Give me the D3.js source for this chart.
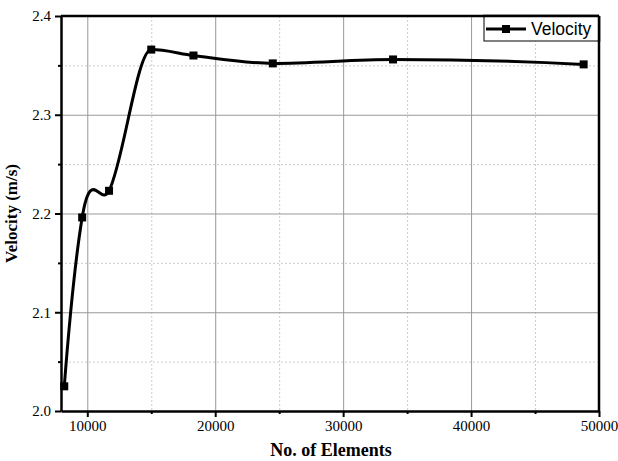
<!DOCTYPE html>
<html>
<head>
<meta charset="utf-8">
<script src="https://cdn.jsdelivr.net/npm/d3@7"></script>
<style>
  body { margin: 0; background: #fff; }
  .grid line { stroke: #999; stroke-width: 1; }
  .grid .domain { display: none; }
  .minor line { stroke: #ccc; stroke-dasharray: 2,2; stroke-width: 1; }
  .minor .domain { display: none; }
  .axis text { font-family: "Liberation Serif", "Times New Roman", serif; font-size: 15px; fill: #000; }
</style>
</head>
<body>
<div id="chart"></div>
<script>
// data
let elements = [8200, 9600, 11700, 15000, 18300, 24500, 33900, 48800];
let velocity = [2.025, 2.196, 2.223, 2.366, 2.360, 2.352, 2.356, 2.351];
let xTicks = [10000, 20000, 30000, 40000, 50000];
let xMinor = [15000, 25000, 35000, 45000];
let yTicks = [2.0, 2.1, 2.2, 2.3, 2.4];
let yMinor = [2.05, 2.15, 2.25, 2.35];

let dataset = elements.map((e, i) => ({x: e, y: velocity[i]}));

// spline curve for d3.line: 3-point tangents, flat at local extremes
function curveSpline(context) {
    let xs = [], ys = [];
    return {
        areaStart() {}, areaEnd() {},
        lineStart() { xs = []; ys = []; },
        point(px, py) { xs.push(+px); ys.push(+py); },
        lineEnd() {
            let n = xs.length;
            if (n < 2) return;
            context.moveTo(xs[0], ys[0]);
            let h = [], s = [];
            for (let i = 0; i < n - 1; i++) {
                h.push(xs[i + 1] - xs[i]);
                s.push((ys[i + 1] - ys[i]) / h[i]);
            }
            let t = new Array(n).fill(0);
            for (let i = 1; i < n - 1; i++) {
                if (s[i - 1] * s[i] <= 0) t[i] = 0;   // peak or dip
                else t[i] = (h[i] * s[i - 1] + h[i - 1] * s[i]) / (h[i - 1] + h[i]);
            }
            t[0] = n > 2 ? 2 * s[0] - t[1] : s[0];
            t[n - 1] = n > 2 ? 2 * s[n - 2] - t[n - 2] : s[n - 2];
            for (let i = 0; i < n - 1; i++) {
                let d = h[i] / 3;
                context.bezierCurveTo(xs[i] + d, ys[i] + t[i] * d,
                    xs[i + 1] - d, ys[i + 1] - t[i + 1] * d,
                    xs[i + 1], ys[i + 1]);
            }
        }
    };
}

let margin = {top: 16, right: 19, bottom: 50, left: 61},
    width = 618 - margin.left - margin.right,
    height = 461 - margin.top - margin.bottom;

let svg = d3.select("#chart")
    .append("svg")
    .attr("width", 618)
    .attr("height", 461)
    .append("g")
    .attr("transform", "translate(" + margin.left + "," + margin.top + ")");

let x = d3.scaleLinear().domain([7945, 50000]).range([0, width]);
let y = d3.scaleLinear().domain([2.0, 2.4]).range([height, 0]);

// minor gridlines (dotted)
svg.append("g").attr("class", "minor")
    .call(d3.axisBottom(x).tickValues(xMinor).tickSize(height).tickFormat(""));
svg.append("g").attr("class", "minor")
    .attr("transform", "translate(" + width + ",0)")
    .call(d3.axisLeft(y).tickValues(yMinor).tickSize(width).tickFormat(""));

// major gridlines
svg.append("g").attr("class", "grid")
    .call(d3.axisBottom(x).tickValues(xTicks).tickSize(height).tickFormat(""));
svg.append("g").attr("class", "grid")
    .attr("transform", "translate(" + width + ",0)")
    .call(d3.axisLeft(y).tickValues(yTicks).tickSize(width).tickFormat(""));

// frame top/right
svg.append("line").attr("x1", 0).attr("x2", width).attr("y1", 0).attr("y2", 0)
    .attr("stroke", "black").attr("stroke-width", 2.5);
svg.append("line").attr("x1", width).attr("x2", width).attr("y1", 0).attr("y2", height)
    .attr("stroke", "black").attr("stroke-width", 2.5);

// axes
let xAxis = svg.append("g").attr("class", "axis")
    .attr("transform", "translate(0," + height + ")")
    .call(d3.axisBottom(x).tickValues(xTicks).tickSize(6).tickSizeOuter(0).tickPadding(3).tickFormat(d3.format("d")));
let xAxisMinor = svg.append("g")
    .attr("transform", "translate(0," + height + ")")
    .call(d3.axisBottom(x).tickValues(xMinor).tickSize(3).tickFormat(""));
xAxisMinor.select(".domain").remove();

let yAxis = svg.append("g").attr("class", "axis")
    .call(d3.axisLeft(y).tickValues(yTicks).tickSize(6).tickSizeOuter(0).tickPadding(4).tickFormat(d3.format(".1f")));
let yAxisMinor = svg.append("g")
    .call(d3.axisLeft(y).tickValues(yMinor).tickSize(3).tickFormat(""));
yAxisMinor.select(".domain").remove();

[xAxis, yAxis].forEach(a => a.attr("font-family", "Liberation Serif").attr("font-size", 15));
svg.selectAll(".domain").attr("stroke-width", 2.5);
[xAxis, yAxis, xAxisMinor, yAxisMinor].forEach(a => a.selectAll(".tick line").attr("stroke-width", 2));

// axis titles
svg.append("text")
    .attr("x", 270)
    .attr("y", height + 45)
    .attr("text-anchor", "middle")
    .style("font-family", "'Liberation Serif', serif")
    .style("font-weight", "bold")
    .style("font-size", "18px")
    .text("No. of Elements");

svg.append("text")
    .attr("transform", "rotate(-90)")
    .attr("x", -height / 2)
    .attr("y", -44)
    .attr("text-anchor", "middle")
    .style("font-family", "'Liberation Serif', serif")
    .style("font-weight", "bold")
    .style("font-size", "17px")
    .text("Velocity (m/s)");

// curve
let line = d3.line()
    .x(d => x(d.x))
    .y(d => y(d.y))
    .curve(curveSpline);

svg.append("path")
    .datum(dataset)
    .attr("d", line)
    .attr("fill", "none")
    .attr("stroke", "black")
    .attr("stroke-width", 3);

// markers
svg.selectAll("rect.pt")
    .data(dataset)
    .enter()
    .append("rect")
    .attr("class", "pt")
    .attr("x", d => x(d.x) - 4)
    .attr("y", d => y(d.y) - 4)
    .attr("width", 8)
    .attr("height", 8)
    .attr("fill", "black");

// legend
let lg = svg.append("g").attr("transform", "translate(" + (width - 115) + ",0)");
lg.append("rect").attr("x", 0).attr("y", 0).attr("width", 115).attr("height", 25)
    .attr("fill", "white").attr("stroke", "black").attr("stroke-width", 1);
lg.append("line").attr("x1", 2).attr("x2", 42).attr("y1", 13).attr("y2", 13)
    .attr("stroke", "black").attr("stroke-width", 3);
lg.append("rect").attr("x", 18).attr("y", 9).attr("width", 8).attr("height", 8).attr("fill", "black");
lg.append("text").attr("x", 47).attr("y", 19)
    .style("font-family", "'Liberation Sans', Arial, sans-serif")
    .style("font-size", "17.5px")
    .text("Velocity");
// redraw top/right frame over legend
svg.append("line").attr("x1", width - 116).attr("x2", width).attr("y1", 0).attr("y2", 0)
    .attr("stroke", "black").attr("stroke-width", 2.5);
svg.append("line").attr("x1", width).attr("x2", width).attr("y1", 0).attr("y2", 26)
    .attr("stroke", "black").attr("stroke-width", 2.5);
</script>
</body>
</html>
